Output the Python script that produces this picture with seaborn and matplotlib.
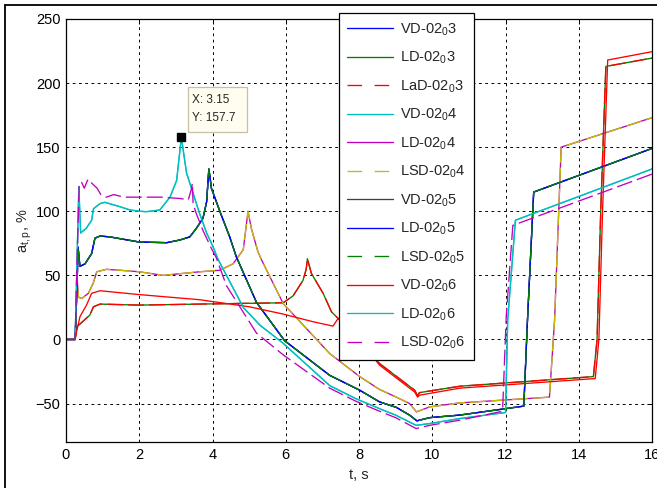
import numpy as np
import pandas as pd
import matplotlib
matplotlib.use("Agg")
import matplotlib.pyplot as plt
import seaborn as sns
from matplotlib.lines import Line2D
from matplotlib.patches import Rectangle

# ---------------- data ----------------
# curve A: cyan, peak 157.7 at 3.15
ta = [0, 0.25, 0.3, 0.35, 0.4, 0.56, 0.7, 0.75, 0.93, 1.06, 1.47, 1.75, 2.02, 2.2, 2.56, 2.84, 3.02,
      3.15, 3.29, 3.47, 3.65, 3.84, 4.02, 4.16, 4.84, 5.3, 5.93, 7.2, 7.9, 8.56, 9.0, 9.56, 9.93, 10.75,
      12.0, 12.06, 12.27, 16.0]
va = [0, 0, 60, 119, 83, 87, 93, 102, 106, 107, 103.6, 101, 100, 99.7, 101, 111, 124,
      157.7, 130, 114, 98, 83, 72, 62, 25, 11, -3, -36, -46, -54, -59, -67, -65.6, -61.7,
      -57, 15, 93, 133]
# curve B: magenta dashed, plateau ~111
tb = [0, 0.25, 0.3, 0.36, 0.42, 0.5, 0.6, 0.7, 0.85, 0.95, 1.1, 1.3, 1.6, 2.0, 2.6, 3.1, 3.34, 3.43,
      3.45, 3.47, 3.56, 3.74, 3.97, 4.1, 4.38, 5.2, 5.93, 7.2, 7.9, 8.56, 9.0, 9.56, 9.93, 10.75,
      11.92, 12.02, 12.2, 16.0]
vb = [0, 0, 60, 120, 123, 118, 125, 122, 118, 113, 111, 113, 111, 111, 111, 110, 109, 118,
      122, 106, 98, 85, 71, 64, 42, 5, -12, -38, -48, -56, -61, -69.5, -67, -63,
      -56, 18, 89, 129]
# curve C: green/blue, peak 133 at 3.9
tc = [0, 0.25, 0.3, 0.33, 0.38, 0.52, 0.7, 0.79, 0.93, 1.2, 2.0, 2.75, 3.11, 3.38, 3.56, 3.74, 3.84,
      3.9, 3.93, 3.97, 4.2, 4.47, 4.65, 5.2, 5.97, 7.2, 8.02, 8.56, 9.02, 9.38, 9.58, 9.93, 10.75,
      12.5, 12.6, 12.77, 16.0]
vc = [0, 0, 40, 72, 57, 59, 67, 79, 80.7, 80, 76, 75.5, 77.6, 80, 86.7, 94.5, 107.5,
      133, 127, 118, 100, 80, 64.5, 29, -1, -28, -39.6, -48.7, -53, -59, -63.5, -61, -59,
      -52, 15, 115, 149]
# curve D: yellow/magenta, peak 100 at 5.0
td = [0, 0.25, 0.3, 0.34, 0.43, 0.61, 0.74, 0.84, 1.1, 1.47, 2.0, 2.65, 3.65, 4.2, 4.56, 4.84, 4.97,
      5.06, 5.15, 5.24, 5.34, 5.93, 7.2, 8.02, 8.56, 9.02, 9.38, 9.57, 9.93, 10.75, 13.2, 13.34, 13.52,
      16.0]
vd = [0, 0, 49, 33, 32, 36, 43.7, 52.8, 54.7, 54, 52.8, 50, 52.8, 54, 59, 70, 100,
      86.7, 77.6, 68.5, 62, 28, -11, -29, -39, -45, -50, -56.5, -52.6, -49.5, -45, 15, 150,
      173]
# curve E: red, plateau ~28 and peak 63 at 6.6
te = [0, 0.25, 0.29, 0.38, 0.65, 0.75, 0.93, 2.0, 3.65, 5.93, 6.2, 6.47, 6.56, 6.59, 6.7, 7.02, 7.25,
      7.43, 8.0, 8.56, 9.52, 9.6, 9.65, 10.75, 14.4, 14.5, 14.6, 14.74, 16.0]
ve = [0, 0, 10, 12, 19, 25.5, 27.6, 26.8, 27.6, 28.6, 34, 46, 55, 63, 51.5, 36, 21.5,
      16.4, 0, -18.8, -39.6, -44, -41.5, -36.5, -29, 0, 100, 213, 219.5]
# curve F: red, linear decrease from 38
tf = [0, 0.25, 0.29, 0.38, 0.56, 0.7, 0.93, 2.0, 3.65, 5.0, 5.9, 6.75, 7.29, 7.43, 8.0, 8.56, 9.52,
      9.6, 9.65, 10.75, 14.45, 14.55, 14.65, 14.79, 16.0]
vf = [0, 0, 6, 17.7, 26.8, 36, 38, 35, 31, 25.5, 20, 13.8, 10.4, 16.4, 0, -20, -41,
      -45, -43.5, -38, -30.5, 0, 100, 218, 224.5]

curves = {"A": (ta, va), "B": (tb, vb), "C": (tc, vc), "D": (td, vd), "E": (te, ve), "F": (tf, vf)}

series_names = ["VD-02$_0$3", "LD-02$_0$3", "LaD-02$_0$3", "VD-02$_0$4", "LD-02$_0$4", "LSD-02$_0$4",
                "VD-02$_0$5", "LD-02$_0$5", "LSD-02$_0$5", "VD-02$_0$6", "LD-02$_0$6", "LSD-02$_0$6"]
series_curve = ["C", "E", "E", "A", "D", "D", "C", "C", "C", "F", "A", "B"]
series_colors = ["#0000ff", "#008000", "#ff0000", "#00bfbf", "#bf00bf", "#bfbf00",
                 "#404040", "#0000ff", "#008000", "#ff0000", "#00bfbf", "#bf00bf"]
series_dashed = [False, False, True, False, False, True, False, False, True, False, False, True]

x_ticks = [0, 2, 4, 6, 8, 10, 12, 14, 16]
y_ticks = [-50, 0, 50, 100, 150, 200, 250]
tip_x, tip_y = 3.15, 157.7

# ---------------- long table ----------------
rows = []
for name, cname in zip(series_names, series_curve):
    t, v = curves[cname]
    for i, (ti, vi) in enumerate(zip(t, v)):
        rows.append({"series": name, "t": ti, "v": vi, "order": i})
df = pd.DataFrame(rows)

# ---------------- style ----------------
sns.set_style("white")
plt.rcParams["font.family"] = ["Liberation Sans", "DejaVu Sans"]
plt.rcParams["mathtext.default"] = "regular"
plt.rcParams["lines.scale_dashes"] = False

W, H = 657, 488
fig = plt.figure(figsize=(W / 100, H / 100), dpi=100)
ax = fig.add_axes([66 / W, 1 - 442 / H, 586 / W, 423 / H])

DASH = (11.5, 3.6)
palette = dict(zip(series_names, series_colors))
dashes = {n: (DASH if d else "") for n, d in zip(series_names, series_dashed)}

sns.lineplot(data=df, x="t", y="v", hue="series", style="series", hue_order=series_names,
             style_order=series_names, palette=palette, dashes=dashes, estimator=None,
             sort=False, units="series", legend=False, linewidth=0.95, ax=ax)

ax.set_xlim(0, 16)
ax.set_ylim(-80, 250)
ax.set_xticks(x_ticks)
ax.set_yticks(y_ticks)
ax.grid(True, color="black", linestyle=(0, (2.0, 2.5)), linewidth=0.7)
ax.set_axisbelow(True)
ax.tick_params(direction="in", top=True, right=True, length=3.5, width=0.7,
               labelsize=10.5, pad=4, colors="black")
for s in ax.spines.values():
    s.set_color("black")
    s.set_linewidth(0.9)

ax.set_xlabel("t, s", fontsize=10.5)
ax.xaxis.set_label_coords(0.5, -0.062)
ax.set_ylabel("a$_{t,p}$, %", fontsize=10.5, va="center")
ax.yaxis.set_label_coords(-0.07, 0.5)

# data tip
ax.plot([tip_x], [tip_y], marker="s", color="black", markersize=6, zorder=6, clip_on=False)
ax.add_patch(Rectangle((3.335, 162.0), 1.61, 34.6, facecolor="#fffcf0", edgecolor="#c8bfa8",
                       linewidth=0.9, zorder=6))
ax.text(3.45, 186.5, f"X: {tip_x}", fontsize=8.5, va="center", ha="left", zorder=7)
ax.text(3.45, 173.0, f"Y: {tip_y}", fontsize=8.5, va="center", ha="left", zorder=7)

# legend
handles = [Line2D([0], [0], color=c, lw=0.95, linestyle=((0, (10.5, 9.0)) if d else "-"))
           for c, d in zip(series_colors, series_dashed)]
leg = fig.legend(handles, series_names, loc="upper left", bbox_to_anchor=(339 / W, 1 - 13 / H),
                 bbox_transform=fig.transFigure, borderaxespad=0, fontsize=10.5,
                 handlelength=3.1, handletextpad=0.5, labelspacing=0.83, borderpad=0.57,
                 fancybox=False, framealpha=1, edgecolor="black")
leg.get_frame().set_linewidth(0.9)

# figure border (cropped window frame)
fig.add_artist(Line2D([5 / W, 5 / W], [0, 1 - 5 / H], transform=fig.transFigure, color="black", lw=1.3))
fig.add_artist(Line2D([5 / W, 1], [1 - 5 / H, 1 - 5 / H], transform=fig.transFigure, color="black", lw=1.3))

fig.savefig("out.png", dpi=100)
